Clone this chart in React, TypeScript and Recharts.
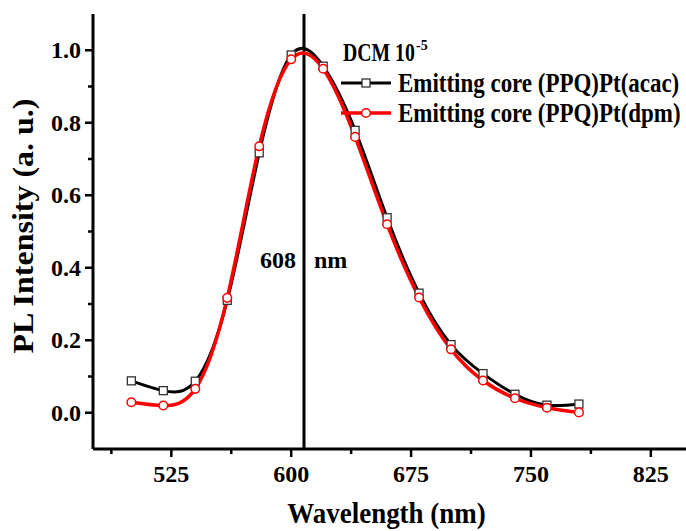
import React from 'react';
import { LineChart, Line, XAxis, YAxis, ReferenceLine, Legend } from 'recharts';

const wavelengths = [500, 520, 540, 560, 580, 600, 620, 640, 660, 680, 700, 720, 740, 760, 780];
const acacValues = [0.088, 0.061, 0.087, 0.31, 0.717, 0.987, 0.956, 0.779, 0.538, 0.33, 0.188, 0.108, 0.051, 0.021, 0.024];
const dpmValues = [0.029, 0.02, 0.066, 0.317, 0.735, 0.975, 0.949, 0.761, 0.52, 0.318, 0.175, 0.089, 0.04, 0.014, 0.001];

const xMajorTicks = [525, 600, 675, 750, 825];
const xAllTicks = [487.5, 525, 562.5, 600, 637.5, 675, 712.5, 750, 787.5, 825];
const yAllTicks = [0, 0.1, 0.2, 0.3, 0.4, 0.5, 0.6, 0.7, 0.8, 0.9, 1.0];
const peakWavelength = 608;

const seriesNames = ['Emitting core (PPQ)Pt(acac)', 'Emitting core (PPQ)Pt(dpm)'];

const data = wavelengths.map((wl, i) => ({ wl, acac: acacValues[i], dpm: dpmValues[i] }));

const FONT = '"Liberation Serif", "Times New Roman", serif';

const XTick = (props: any) => {
  const { x, y, payload } = props;
  const major = xMajorTicks.includes(payload.value);
  return (
    <g>
      <line x1={x} x2={x} y1={y} y2={y + (major ? 8 : 5)} stroke="#000" strokeWidth={2.5} />
      {major && (
        <text x={x} y={y + 33} textAnchor="middle" fontFamily={FONT} fontWeight="bold" fontSize={24} fill="#000">
          {payload.value}
        </text>
      )}
    </g>
  );
};

const YTick = (props: any) => {
  const { x, y, payload } = props;
  const major = Math.round(payload.value * 10) % 2 === 0;
  return (
    <g>
      <line x1={x} x2={x - (major ? 8 : 5)} y1={y} y2={y} stroke="#000" strokeWidth={2.5} />
      {major && (
        <text x={x - 12} y={y + 8} textAnchor="end" fontFamily={FONT} fontWeight="bold" fontSize={24} fill="#000">
          {payload.value.toFixed(1)}
        </text>
      )}
    </g>
  );
};

const SquareDot = (props: any) => {
  const { cx, cy, index } = props;
  return <rect key={`sq-${index}`} x={cx - 4} y={cy - 4} width={8} height={8} fill="#fff" stroke="#333" strokeWidth={1.3} />;
};

// legend is drawn by hand so the text can be squeezed like the original
const LegendBox = (props: any) => {
  const items = props.payload || [];
  return (
    <svg width={686} height={130} style={{ display: 'block' }}>
      <text transform="translate(343 61) scale(0.79 1)" fontFamily={FONT} fontWeight="bold" fontSize={25}>
        DCM 10
      </text>
      <text x={416} y={50} fontFamily={FONT} fontWeight="bold" fontSize={14}>
        -5
      </text>
      {items.map((item: any, i: number) => {
        const cy = 83 + i * 30;
        const isRed = i === 1;
        return (
          <g key={item.value}>
            <line x1={341} x2={391} y1={cy} y2={cy} stroke={item.color} strokeWidth={isRed ? 3.5 : 3} />
            {isRed ? (
              <circle cx={366} cy={cy} r={4.3} fill="#fff" stroke="#ff0000" strokeWidth={1.5} />
            ) : (
              <rect x={362} y={cy - 4} width={8} height={8} fill="#fff" stroke="#333" strokeWidth={1.3} />
            )}
            <text transform={`translate(398 ${cy + 9}) scale(0.82 1)`} fontFamily={FONT} fontWeight="bold" fontSize={28}>
              {item.value}
            </text>
          </g>
        );
      })}
    </svg>
  );
};

export default function App() {
  return (
    <div style={{ position: 'absolute', left: 0, top: 0, width: 686, height: 531, background: '#fff' }}>
      <LineChart width={686} height={531} data={data} margin={{ top: 14, right: 0, bottom: 0, left: 0 }}>
        <XAxis
          xAxisId="top"
          orientation="top"
          dataKey="wl"
          type="number"
          domain={[476, 847]}
          allowDataOverflow
          height={0}
          tick={false}
          tickLine={false}
          axisLine={{ stroke: '#000', strokeWidth: 3 }}
        />
        <XAxis
          dataKey="wl"
          type="number"
          domain={[476, 847]}
          allowDataOverflow
          ticks={xAllTicks}
          interval={0}
          height={82}
          tickSize={0}
          tickMargin={0}
          tickLine={false}
          tick={XTick}
          axisLine={{ stroke: '#000', strokeWidth: 3 }}
          label={(p: any) => (
            <text
              transform={`translate(${p.viewBox.x + p.viewBox.width / 2 - 3} ${p.viewBox.y + 74}) scale(0.93 1)`}
              textAnchor="middle"
              fontFamily={FONT}
              fontWeight="bold"
              fontSize={29}
            >
              Wavelength (nm)
            </text>
          )}
        />
        <YAxis
          type="number"
          domain={[-0.1, 1.1]}
          allowDataOverflow
          ticks={yAllTicks}
          interval={0}
          width={93}
          tickSize={0}
          tickMargin={0}
          tickLine={false}
          tick={YTick}
          axisLine={{ stroke: '#000', strokeWidth: 3 }}
          label={() => (
            <text
              x={33}
              y={226}
              transform="rotate(-90, 33, 226)"
              textAnchor="middle"
              fontFamily={FONT}
              fontWeight="bold"
              fontSize={29}
              textLength={255}
              lengthAdjust="spacingAndGlyphs"
            >
              PL Intensity (a. u.)
            </text>
          )}
        />
        <ReferenceLine
          x={peakWavelength}
          stroke="#000"
          strokeWidth={3}
          label={(p: any) => (
            <g>
              <text x={p.viewBox.x - 8} y={268} textAnchor="end" fontFamily={FONT} fontWeight="bold" fontSize={24}>
                {peakWavelength}
              </text>
              <text x={p.viewBox.x + 10} y={268} fontFamily={FONT} fontWeight="bold" fontSize={24}>
                nm
              </text>
            </g>
          )}
        />
        <Line
          type="natural"
          dataKey="acac"
          name={seriesNames[0]}
          stroke="#000"
          strokeWidth={3}
          dot={SquareDot}
          activeDot={false}
          isAnimationActive={false}
        />
        <Line
          type="natural"
          dataKey="dpm"
          name={seriesNames[1]}
          stroke="#ff0000"
          strokeWidth={3.5}
          dot={{ r: 4.3, fill: '#fff', stroke: '#ff0000', strokeWidth: 1.5 }}
          activeDot={false}
          isAnimationActive={false}
        />
        <Legend
          layout="vertical"
          align="center"
          verticalAlign="middle"
          content={LegendBox}
          wrapperStyle={{ position: 'absolute', left: 0, top: 0, width: 686, height: 130, pointerEvents: 'none' }}
        />
      </LineChart>
    </div>
  );
}
